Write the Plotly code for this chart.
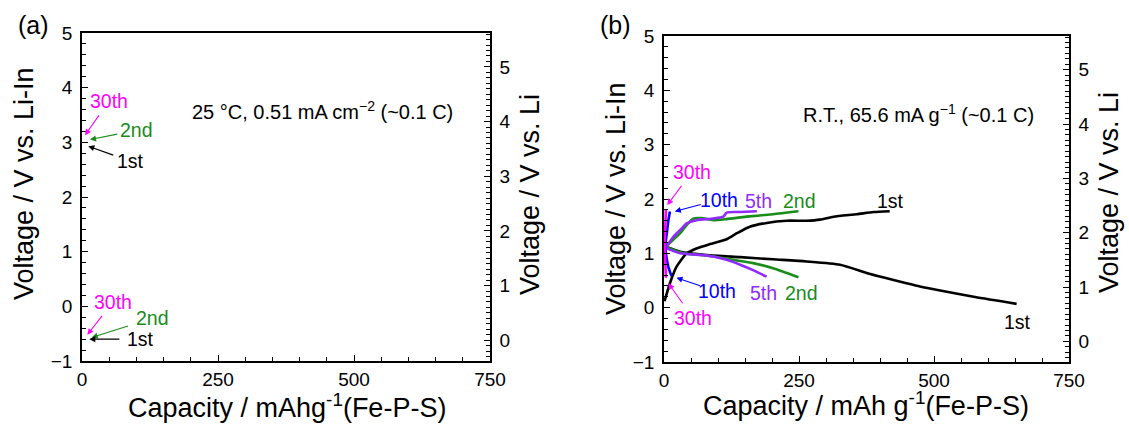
import plotly.graph_objects as go

# ---- panel (b) galvanostatic curves: capacity (mAh g-1) vs voltage (V vs Li-In) ----
cap_1st_dis = [3, 30, 79, 141, 202, 264, 326, 375, 409, 449, 474, 509, 576, 653]
v_1st_dis = [1.12, 1.03, 0.97, 0.93, 0.89, 0.85, 0.79, 0.64, 0.55, 0.45, 0.39, 0.32, 0.195, 0.07]
cap_1st_chg = [1, 11, 23, 42, 60, 85, 116, 135, 159, 190, 227, 264, 289, 314, 357, 388, 418]
v_1st_chg = [0.12, 0.45, 0.75, 1.0, 1.09, 1.17, 1.26, 1.37, 1.49, 1.56, 1.60, 1.60, 1.62, 1.675, 1.72, 1.76, 1.775]

cap_2nd_dis = [3, 36, 79, 128, 165, 202, 249]
v_2nd_dis = [1.12, 1.0, 0.96, 0.88, 0.82, 0.725, 0.56]
cap_2nd_chg = [3, 17, 30, 42, 54, 69, 91, 116, 153, 202, 249]
v_2nd_chg = [1.12, 1.25, 1.37, 1.52, 1.64, 1.65, 1.61, 1.63, 1.675, 1.72, 1.775]

cap_5th_dis = [3, 30, 79, 116, 141, 165, 190]
v_5th_dis = [1.1, 1.0, 0.96, 0.88, 0.79, 0.69, 0.57]
cap_5th_chg = [3, 17, 30, 42, 60, 91, 110, 116, 141, 172]
v_5th_chg = [1.1, 1.3, 1.43, 1.55, 1.61, 1.64, 1.675, 1.75, 1.76, 1.775]

cap_10th_dis = [2, 5, 8, 11, 14]
v_10th_dis = [1.12, 0.9, 0.75, 0.66, 0.58]
cap_10th_chg = [2, 5, 8, 11]
v_10th_chg = [1.15, 1.35, 1.6, 1.77]

cap_30th_dis = [1, 2, 3, 3.5]
v_30th_dis = [1.15, 0.95, 0.7, 0.55]
cap_30th_chg = [1, 2, 3, 3.5]
v_30th_chg = [1.15, 1.4, 1.65, 1.8]

# Li-In vs Li potential offset used for the right-hand axes
LI_IN_OFFSET = 0.62

# cycle label callouts: (text, colour, tip capacity, tip voltage, label capacity, label voltage)
labels_a = [
    ("30th", "#ff00ff", 5.5, 3.13, 50, 3.76),
    ("2nd", "#1a8c1a", 14.7, 3.05, 100, 3.22),
    ("1st", "#000000", 11.6, 2.93, 90, 2.65),
    ("30th", "#ff00ff", 9.8, -0.52, 57, 0.08),
    ("2nd", "#1a8c1a", 17.8, -0.57, 130, -0.22),
    ("1st", "#000000", 13.4, -0.60, 107, -0.60),
]
labels_b = [
    ("30th", "#ff00ff", 6, 1.89, 52, 2.50),
    ("10th", "#0000ff", 20, 1.77, 102, 1.99),
    ("5th", "#8f2bff", None, None, 175, 1.97),
    ("2nd", "#1a8c1a", None, None, 250, 1.97),
    ("1st", "#000000", None, None, 420, 1.97),
    ("10th", "#0000ff", 23, 0.55, 98, 0.30),
    ("30th", "#ff00ff", 8, 0.45, 54, -0.19),
    ("5th", "#8f2bff", None, None, 185, 0.27),
    ("2nd", "#1a8c1a", None, None, 255, 0.27),
    ("1st", "#000000", None, None, 655, -0.27),
]

FONT = "Arial, Liberation Sans, sans-serif"
W, H = 1129, 427


def px_x(p):
    return p / W


def px_y(p):
    return 1 - p / H


fig = go.Figure()

series_b = [
    (cap_1st_dis, v_1st_dis, "#000000"),
    (cap_1st_chg, v_1st_chg, "#000000"),
    (cap_2nd_dis, v_2nd_dis, "#1a8c1a"),
    (cap_2nd_chg, v_2nd_chg, "#1a8c1a"),
    (cap_5th_dis, v_5th_dis, "#8f2bff"),
    (cap_5th_chg, v_5th_chg, "#8f2bff"),
    (cap_10th_dis, v_10th_dis, "#0000ff"),
    (cap_10th_chg, v_10th_chg, "#0000ff"),
    (cap_30th_dis, v_30th_dis, "#ff00ff"),
    (cap_30th_chg, v_30th_chg, "#ff00ff"),
]
for xs, ys, col in series_b:
    fig.add_trace(go.Scatter(x=xs, y=ys, mode="lines", xaxis="x2", yaxis="y3",
                             line=dict(color=col, width=2.6, shape="spline", smoothing=0.6),
                             showlegend=False, hoverinfo="skip"))

# invisible traces so that every axis is drawn
fig.add_trace(go.Scatter(x=[None], y=[None], xaxis="x", yaxis="y", showlegend=False))
fig.add_trace(go.Scatter(x=[None], y=[None], xaxis="x", yaxis="y2", showlegend=False))
fig.add_trace(go.Scatter(x=[None], y=[None], xaxis="x2", yaxis="y4", showlegend=False))

tickfont = dict(family=FONT, size=19, color="black")
common_x = dict(range=[0, 750], tickvals=[0, 250, 500, 750], ticks="inside", ticklen=6,
                tickwidth=1.2, tickcolor="black", showline=True, linecolor="black",
                linewidth=1.5, mirror=True, showgrid=False, zeroline=False, automargin=False,
                tickfont=tickfont, minor=dict(dtick=50, ticks="inside", ticklen=4,
                                              tickcolor="black", tickwidth=1.2))
common_yl = dict(range=[-1, 5], tickvals=[-1, 0, 1, 2, 3, 4, 5],
                 ticktext=["\u22121", "0", "1", "2", "3", "4", "5"],
                 ticks="inside", ticklen=6, tickwidth=1.2, tickcolor="black",
                 showline=True, linecolor="black", linewidth=1.5, showgrid=False,
                 zeroline=False, automargin=False, tickfont=tickfont, ticklabelstandoff=4,
                 minor=dict(dtick=0.2, tick0=0, ticks="inside", ticklen=4,
                            tickcolor="black", tickwidth=1.2))
common_yr = dict(range=[-1 + LI_IN_OFFSET, 5 + LI_IN_OFFSET], tickvals=[0, 1, 2, 3, 4, 5],
                 side="right", ticks="inside", ticklen=6, tickwidth=1.2, tickcolor="black",
                 showline=True, linecolor="black", linewidth=1.5, showgrid=False,
                 zeroline=False, automargin=False, tickfont=tickfont, ticklabelstandoff=4,
                 minor=dict(dtick=0.1, tick0=0, ticks="inside", ticklen=4,
                            tickcolor="black", tickwidth=1.2))

fig.update_layout(
    width=W, height=H, margin=dict(l=0, r=0, t=0, b=0, autoexpand=False),
    paper_bgcolor="white", plot_bgcolor="white", showlegend=False,
    xaxis=dict(domain=[px_x(82), px_x(490)], anchor="y", **common_x),
    yaxis=dict(domain=[px_y(361), px_y(33)], anchor="x", **common_yl),
    yaxis2=dict(overlaying="y", anchor="x", **common_yr),
    xaxis2=dict(domain=[px_x(664), px_x(1069)], anchor="y3", **common_x),
    yaxis3=dict(domain=[px_y(362), px_y(36)], anchor="x2", **common_yl),
    yaxis4=dict(overlaying="y3", anchor="x2", **common_yr),
)

ann = []
titlefont = dict(family=FONT, size=27, color="black")


def paper_text(txt, cx, cy, font, angle=0):
    return dict(text=txt, x=px_x(cx), y=px_y(cy), xref="paper", yref="paper",
                xanchor="center", yanchor="middle", showarrow=False, textangle=angle,
                font=font)


# panel letters
ann.append(paper_text("(a)", 33, 25, dict(family=FONT, size=25, color="black")))
ann.append(paper_text("(b)", 615, 25, dict(family=FONT, size=25, color="black")))
# axis titles
ann.append(paper_text("Capacity / mAhg<sup>-1</sup>(Fe-P-S)", 287, 406, titlefont))
ann.append(paper_text("Capacity / mAh g<sup>-1</sup>(Fe-P-S)", 866, 404, titlefont))
for txt, cx, cy in [("Voltage / V vs. Li-In", 24, 184), ("Voltage / V vs. Li", 530, 195),
                    ("Voltage / V vs. Li-In", 616, 199), ("Voltage / V vs. Li", 1109, 193)]:
    ann.append(paper_text(txt, cx, cy, titlefont, angle=-90))
# test conditions
ann.append(paper_text("25 \u00b0C, 0.51 mA cm<sup>\u22122</sup> (~0.1 C)", 322, 110,
                      dict(family=FONT, size=20, color="black")))
ann.append(paper_text("R.T., 65.6 mA g<sup>\u22121</sup> (~0.1 C)", 918, 113,
                      dict(family=FONT, size=20, color="black")))

for labels, xr, yr in [(labels_a, "x", "y"), (labels_b, "x2", "y3")]:
    for txt, col, tx, ty, lx, ly in labels:
        ann.append(dict(text=txt, x=lx, y=ly, xref=xr, yref=yr, showarrow=False,
                        xanchor="center", yanchor="middle",
                        font=dict(family=FONT, size=19.5, color=col)))
        if tx is not None:
            # arrow from near the label towards the curve end
            dx, dy = lx - tx, ly - ty
            ann.append(dict(text="", x=tx, y=ty, ax=tx + dx * 0.62, ay=ty + dy * 0.62,
                            xref=xr, yref=yr, axref=xr, ayref=yr, showarrow=True,
                            arrowhead=2, arrowsize=1.1, arrowwidth=1.1, arrowcolor=col,
                            standoff=0))

fig.update_layout(annotations=ann)
fig.write_html("out.html")
